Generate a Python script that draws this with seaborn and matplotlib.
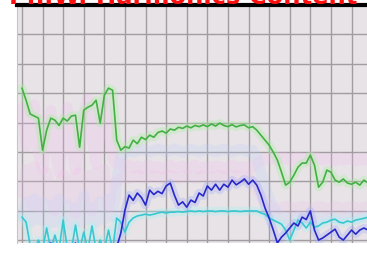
import seaborn as sns
import matplotlib.pyplot as plt
import pandas as pd
import numpy as np

# sample times (grid units), one sample every 0.2
t = np.round(np.arange(85) * 0.2, 1)

green = [5.17, 4.76, 4.29, 4.22, 4.15, 3.06, 3.74, 4.15, 4.08, 3.90, 4.15, 4.05, 4.22, 4.25,
         3.16, 4.42, 4.52, 4.59, 4.76, 3.98, 4.93, 5.17, 5.10, 3.40, 3.06, 3.18, 3.13, 3.40,
         3.28, 3.50, 3.42, 3.57, 3.50, 3.66, 3.71, 3.64, 3.78, 3.74, 3.84, 3.80, 3.88, 3.82,
         3.90, 3.86, 3.92, 3.86, 3.95, 3.88, 3.98, 3.90, 3.86, 3.93, 3.85, 3.90, 3.92, 3.82,
         3.86, 3.74, 3.57, 3.40, 3.23, 2.99, 2.72, 2.31, 1.87, 1.97, 2.21, 2.48, 2.62, 2.62,
         2.89, 2.55, 1.80, 1.97, 2.38, 2.31, 2.04, 1.97, 2.08, 1.94, 1.90, 1.97, 1.87, 2.04,
         1.94]

blue = [-0.30, -0.25, -0.30, -0.20, -0.30, -0.25, -0.30, -0.10, -0.30, -0.25, -0.30, -0.20,
        -0.30, -0.10, -0.30, -0.25, -0.30, -0.20, -0.30, -0.25, -0.30, -0.20, -0.30, -0.25,
        0.24, 1.02, 1.53, 1.35, 1.60, 1.45, 1.19, 1.70, 1.55, 1.66, 1.58, 1.84, 1.94, 1.53,
        1.19, 1.30, 1.12, 1.36, 1.28, 1.60, 1.50, 1.84, 1.70, 1.90, 1.70, 1.90, 1.80, 2.04,
        1.88, 1.97, 2.08, 1.90, 2.04, 1.87, 1.53, 1.09, 0.75, 0.34, -0.10, 0.10, 0.24, 0.41,
        0.58, 0.48, 0.78, 0.70, 0.99, 0.34, 0.00, 0.07, 0.17, 0.27, 0.37, 0.10, 0.00, 0.17,
        0.34, 0.20, 0.34, 0.41, 0.34]

cyan = [0.78, 0.61, -0.17, -0.34, 0.00, -0.34, 0.41, -0.34, 0.17, -0.34, 0.68, -0.27,
        -0.34, 0.51, -0.34, 0.27, -0.34, 0.48, -0.34, 0.00, -0.34, 0.34, -0.34, 0.75,
        0.61, 0.27, 0.61, 0.75, 0.82, 0.85, 0.88, 0.85, 0.88, 0.92, 0.95, 0.92, 0.95,
        0.95, 0.97, 0.95, 0.97, 0.99, 0.97, 0.99, 0.97, 0.99, 0.99, 0.97, 0.99, 0.99,
        0.97, 0.99, 0.99, 0.97, 0.99, 0.99, 0.99, 0.99, 0.92, 0.88, 0.75, 0.68, 0.61,
        0.54, 0.34, 0.00, 0.34, 0.68, 0.58, 0.41, 0.61, 0.44, 0.48, 0.58, 0.61, 0.68,
        0.71, 0.61, 0.58, 0.65, 0.61, 0.68, 0.71, 0.74, 0.78]

# faint background series
pink = [4.50, 3.20, 3.80, 4.60, 3.00, 2.40, 3.60, 4.40, 3.20, 2.30, 3.50, 4.50, 3.30,
        2.40, 3.10, 4.30, 4.80, 3.50, 2.60, 3.80, 4.70, 3.90, 2.80, 2.60, 2.60, 2.50,
        2.55, 2.45, 2.52, 2.42, 2.50, 2.55, 2.45, 2.50, 2.42, 2.48, 2.55, 2.45, 2.48,
        2.52, 2.45, 2.48, 2.55, 2.42, 2.48, 2.50, 2.45, 2.52, 2.50, 2.42, 2.48, 2.55,
        2.45, 2.48, 2.50, 2.45, 2.48, 2.60, 2.70, 2.75, 2.80, 2.78, 2.72, 2.85, 2.80,
        2.70, 2.75, 2.82, 2.78, 2.75, 2.70, 2.85, 2.80, 2.72, 2.75, 2.78, 2.70, 2.80,
        2.72, 2.78, 2.75, 2.70, 2.80, 2.72, 2.75]

pink2 = [1.60, 2.40, 1.20, 2.50, 1.10, 1.90, 2.30, 1.50, 1.00, 1.80, 2.20, 1.40, 2.10,
         0.90, 2.30, 1.50, 2.20, 1.00, 2.30, 1.60, 2.40, 1.10, 1.90, 2.00, 2.10, 2.15,
         2.10, 2.15, 2.20, 2.15, 2.10, 2.15, 2.20, 2.15, 2.10, 2.15, 2.20, 2.15, 2.10,
         2.15, 2.20, 2.15, 2.10, 2.15, 2.20, 2.15, 2.10, 2.15, 2.20, 2.15, 2.10, 2.15,
         2.20, 2.15, 2.10, 2.15, 1.90, 1.70, 1.50, 1.30, 1.20, 1.10, 1.05, 1.10, 1.15,
         1.10, 1.05, 1.10, 1.15, 1.10, 1.05, 1.10, 1.15, 1.10, 1.05, 1.10, 1.15, 1.10,
         1.05, 1.10, 1.15, 1.10, 1.05, 1.10, 1.15]

lavender = [0.80, 1.30, 0.60, 1.40, 0.70, 1.30, 0.50, 1.20, 0.60, 1.40, 0.70, 1.20, 0.50,
            1.10, 0.60, 1.50, 0.70, 1.10, 0.60, 1.30, 0.70, 1.40, 0.80, 2.00, 2.80, 3.00,
            3.05, 3.00, 3.05, 3.10, 3.05, 3.00, 3.05, 3.10, 3.05, 3.00, 3.05, 3.10, 3.05,
            3.00, 3.05, 3.10, 3.05, 3.00, 3.05, 3.10, 3.05, 3.00, 3.05, 3.10, 3.05, 3.00,
            3.05, 3.10, 3.05, 3.00, 3.05, 2.80, 2.30, 1.80, 1.40, 1.10, 0.90, 0.80, 0.75,
            0.70, 0.75, 0.80, 0.75, 0.70, 0.75, 0.80, 0.75, 0.70, 0.75, 0.80, 0.75, 0.70,
            0.75, 0.80, 0.75, 0.70, 0.75, 0.80, 0.75]

title = "Ph.W. Harmonics Content"

sns.set_style("whitegrid", {"axes.facecolor": "#e7e3e7", "grid.color": "#a09ca0",
                            "axes.edgecolor": "#c8c4c8"})

fig = plt.figure(figsize=(3.67, 2.54), dpi=100)
ax = fig.add_axes([17 / 367, 11 / 254, 350 / 367, 238 / 254])

faint = pd.DataFrame({"t": np.tile(t, 3),
                      "v": pink + pink2 + lavender,
                      "s": ["pink"] * 85 + ["pink2"] * 85 + ["lav"] * 85})
sns.lineplot(data=faint, x="t", y="v", hue="s", ax=ax, legend=False, linewidth=8, alpha=0.22,
             palette={"pink": "#f6b8f0", "pink2": "#f2bcec", "lav": "#bcd0fa"})

df = pd.DataFrame({"t": np.tile(t, 3),
                   "v": cyan + blue + green,
                   "s": ["cyan"] * 85 + ["blue"] * 85 + ["green"] * 85})
# soft halo under the lines
sns.lineplot(data=df, x="t", y="v", hue="s", ax=ax, legend=False, linewidth=6, alpha=0.35,
             palette={"cyan": "#a8f4f4", "blue": "#a8b0f8", "green": "#a8f0a0"})
sns.lineplot(data=df, x="t", y="v", hue="s", ax=ax, legend=False, linewidth=1.2,
             palette={"cyan": "#38c8d0", "blue": "#2828c8", "green": "#44b044"})

ax.set_xlim(-0.24, 16.75)
ax.set_ylim(-0.1, 8.0)
ax.set_xticks(np.arange(0, 17, 1))
ax.set_yticks(np.arange(0, 9, 1))
ax.grid(True, linewidth=1.0)
ax.tick_params(length=0, labelbottom=False, labelleft=False)
ax.set_xlabel("")
ax.set_ylabel("")
for side in ["bottom", "right"]:
    ax.spines[side].set_visible(False)
ax.spines["top"].set_color("black")
ax.spines["top"].set_linewidth(3)

fig.text(0.5, 1 - 4 / 254, title, color="#ff1010", fontsize=17.5, fontweight="bold",
         ha="center", va="baseline")

fig.savefig("out.png", dpi=100)
plt.close()
